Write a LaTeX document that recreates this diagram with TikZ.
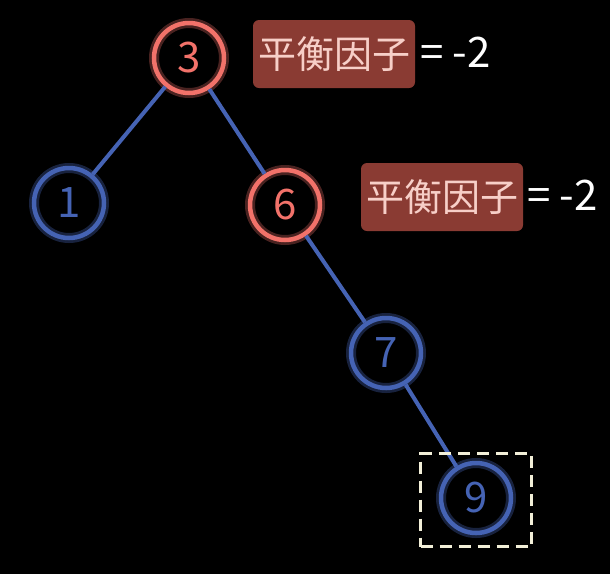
\documentclass[tikz,border=0pt]{standalone}
\usepackage{fontspec}
\setmainfont{Noto Sans CJK SC}
\usetikzlibrary{positioning}
\definecolor{avBg}{HTML}{000000}
\definecolor{avRed}{HTML}{F2726A}
\definecolor{avBlue}{HTML}{4563B4}
\definecolor{avBox}{HTML}{8A3B33}
\definecolor{avPink}{HTML}{F7CFC8}
\definecolor{avDash}{HTML}{F2EFD8}

\begin{document}
\begin{tikzpicture}[x=1pt, y=-1pt,
  tnode/.style={circle, line width=4.5pt, minimum size=70pt, inner sep=0pt, font=\fontsize{42}{42}\selectfont},
  rednode/.style={tnode, draw=avRed, text=avRed, preaction={draw=avRed, line width=10pt, opacity=0.3}},
  bluenode/.style={tnode, draw=avBlue, text=avBlue, preaction={draw=avBlue, line width=10pt, opacity=0.35}},
  bfbox/.style={rounded corners=6pt, fill=avBox, text=avPink, minimum width=162pt, minimum height=68pt, inner sep=0pt, font=\fontsize{38}{38}\selectfont},
  eqlbl/.style={anchor=west, text=white, inner sep=0pt, font=\fontsize{42}{42}\selectfont},
  edge/.style={draw=avBlue, line width=4pt}]
\fill[avBg] (0,0) rectangle (610,574);
\useasboundingbox (0,0) rectangle (610,574);
% tree
\node[rednode] (n3) at (189,58) {3};
\node[bluenode] (n1) at (69,203) {1};
\node[rednode] (n6) at (285,205) {6};
\node[bluenode] (n7) at (386,353) {7};
\node[bluenode] (n9) at (476,498) {9};
\foreach \a/\b in {n3/n1,n3/n6,n6/n7,n7/n9}{\draw[edge] (\a) -- (\b);}
% balance factors
\node[bfbox] (bf3) at (334,54) {平衡因子};
\node[eqlbl] (eq3) at (420,52) {= -2};
\node[bfbox] (bf6) at (442,197) {平衡因子};
\node[eqlbl] (eq6) at (527,195) {= -2};
% inserted node
\node[draw=avDash, dashed, dash pattern=on 12pt off 7pt, line width=3pt, minimum width=111pt, minimum height=93pt] (ins) at (476,500) {};
\end{tikzpicture}
\end{document}
